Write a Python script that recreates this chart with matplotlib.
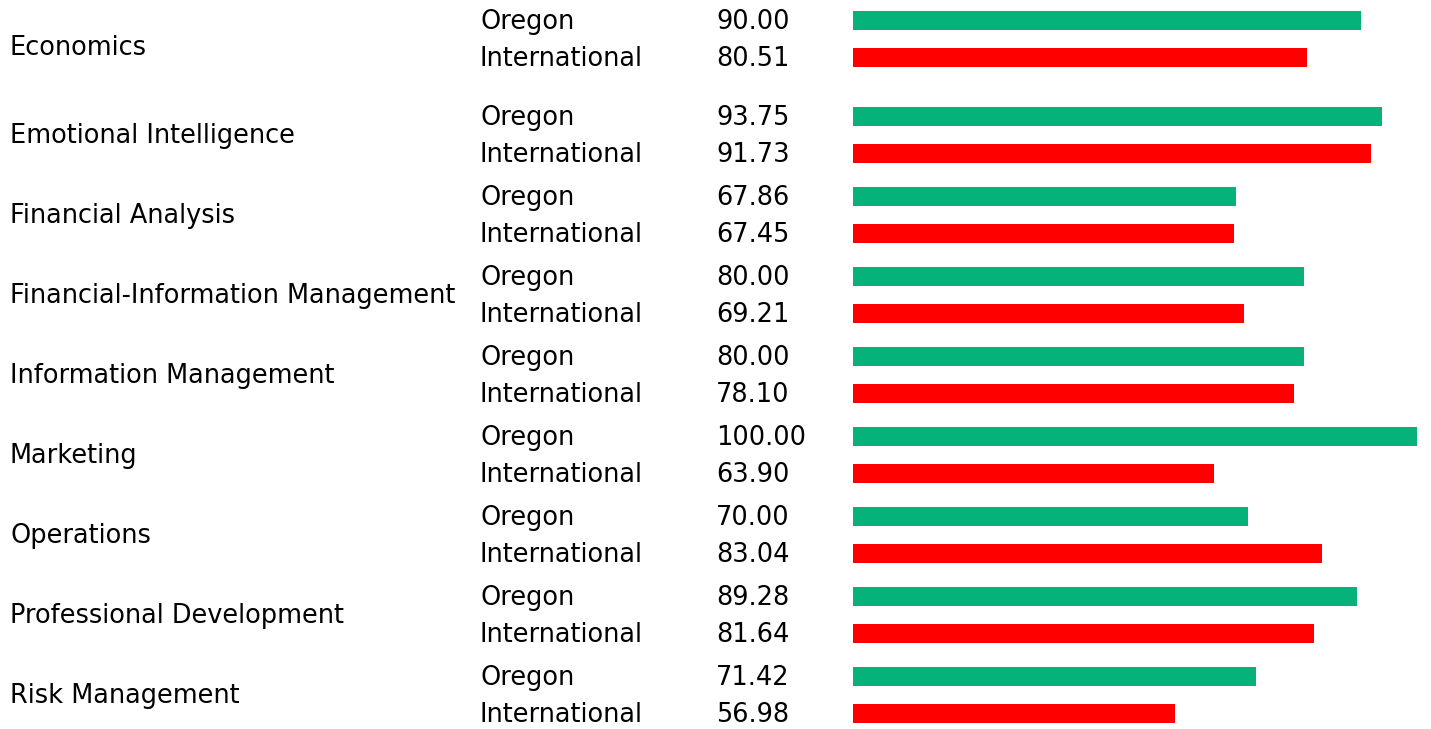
import matplotlib
matplotlib.use("Agg")
import matplotlib.pyplot as plt
from matplotlib.transforms import blended_transform_factory

# scores per skill area, Oregon vs international
categories = ["Economics", "Emotional Intelligence", "Financial Analysis",
              "Financial-Information Management", "Information Management",
              "Marketing", "Operations", "Professional Development",
              "Risk Management"]
groups = ["Oregon", "International"]
oregon = [90.00, 93.75, 67.86, 80.00, 80.00, 100.00, 70.00, 89.28, 71.42]
international = [80.51, 91.73, 67.45, 69.21, 78.10, 63.90, 83.04, 81.64, 56.98]
colors = ["#06b27a", "#ff0000"]

W, H = 1431, 729
# row layout in pixels from the top
oregon_y = [20.5, 116.5, 196.5, 276.5, 356.5, 436.5, 516.5, 596.5, 676.5]
row_gap = 37
label_y = [46, 134.5, 214.5, 294.5, 374.5, 454.5, 534.5, 614.5, 694.5]
text_dy = 1.5
bar_h = 19
x_cat, x_group, x_val = 10, 480, 716
bar_left, bar_right = 853, 1417.3
fs = 18.45

fig = plt.figure(figsize=(W / 100, H / 100), dpi=100, facecolor="w")
ax = fig.add_axes([bar_left / W, 0, (bar_right - bar_left) / W, 1])
ax.set_xlim(0, 100)
ax.set_ylim(H, 0)
ax.set_axis_off()

trans = blended_transform_factory(fig.transFigure, ax.transData)
kwargs = dict(transform=trans, va="center", ha="left", fontsize=fs,
              color="black", family="DejaVu Sans")

for i, cat in enumerate(categories):
    ys = [oregon_y[i], oregon_y[i] + row_gap]
    vals = [oregon[i], international[i]]
    ax.text(x_cat / W, label_y[i] + text_dy, cat, **kwargs)
    for y, g, v, c in zip(ys, groups, vals, colors):
        ax.barh(y, v, height=bar_h, left=0, color=c, linewidth=0)
        ax.text(x_group / W, y + text_dy, g, **kwargs)
        ax.text(x_val / W, y + text_dy, "%.2f" % v, **kwargs)

fig.savefig("out.png", dpi=100, facecolor="w")
plt.close(fig)
